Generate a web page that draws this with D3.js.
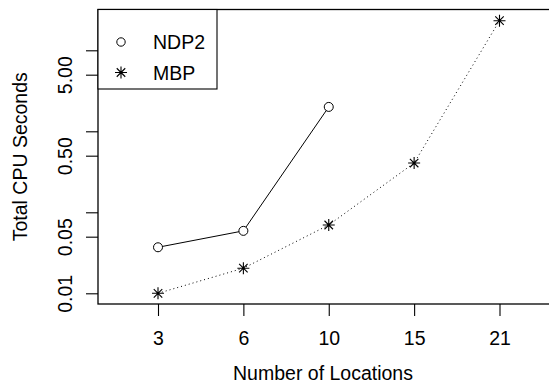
<!DOCTYPE html>
<html>
<head>
<meta charset="utf-8">
<script src="https://cdn.jsdelivr.net/npm/d3@7"></script>
<style>
  html, body { margin: 0; padding: 0; background: #fff; }
  svg text { font-family: "Liberation Sans", Arial, sans-serif; fill: #000; }
</style>
</head>
<body>
<svg id="chart" width="549" height="384"></svg>
<script>
// Number of locations (categorical, equally spaced on the x axis)
const locations = ["3", "6", "10", "15", "21"];
// Total CPU seconds for each method
const ndp2 = [0.037, 0.059, 2.0];
const mbp = [0.01, 0.0204, 0.0697, 0.406, 23.2];
// Log-axis tick positions and their labels
const yTicks = [0.01, 0.05, 0.1, 0.5, 1, 5, 10];
const yLabels = ["0.01", "0.05", "", "0.50", "", "5.00", ""];
const seriesNames = ["NDP2", "MBP"];

const svg = d3.select("#chart");
const font = 19.5;

const x = d3.scaleLinear().domain([1, 5]).range([158, 499.5]);
const y = d3.scaleLog().domain([0.01, 10]).range([293.3, 50.3]);

const box = { left: 98, right: 560, top: 9.5, bottom: 304 };

// Plot frame
svg.append("rect")
  .attr("x", box.left).attr("y", box.top)
  .attr("width", box.right - box.left).attr("height", box.bottom - box.top)
  .attr("fill", "none").attr("stroke", "#000").attr("stroke-width", 1.3);

// X axis ticks and labels
const xg = svg.append("g").attr("transform", `translate(0,${box.bottom})`);
xg.call(d3.axisBottom(x).tickValues([1, 2, 3, 4, 5])
  .tickFormat(i => locations[i - 1]).tickSize(12).tickPadding(0));
xg.select(".domain").remove();
xg.selectAll(".tick line").attr("stroke", "#000").attr("stroke-width", 1.1);
xg.selectAll(".tick text")
  .attr("y", 41).attr("dy", null)
  .style("font-size", font + "px")
  .style("font-family", "'Liberation Sans', Arial, sans-serif");

// Y axis ticks and rotated labels
const yg = svg.append("g").attr("transform", `translate(${box.left},0)`);
yg.call(d3.axisLeft(y).tickValues(yTicks)
  .tickFormat((d, i) => yLabels[i]).tickSize(12));
yg.select(".domain").remove();
yg.selectAll(".tick line").attr("stroke", "#000").attr("stroke-width", 1.1);
yg.selectAll(".tick text")
  .attr("x", null).attr("dy", null)
  .attr("transform", "translate(-26,0) rotate(-90)")
  .attr("text-anchor", "middle")
  .style("font-size", font + "px")
  .style("font-family", "'Liberation Sans', Arial, sans-serif");

// Axis titles
svg.append("text")
  .attr("x", 323).attr("y", 380)
  .attr("text-anchor", "middle")
  .style("font-size", font + "px")
  .text("Number of Locations");
svg.append("text")
  .attr("transform", `translate(27,${(box.top + box.bottom) / 2}) rotate(-90)`)
  .attr("text-anchor", "middle")
  .style("font-size", font + "px")
  .text("Total CPU Seconds");

const line = d3.line().x((d, i) => x(i + 1)).y(d => y(d));

// NDP2: solid line, open circles
svg.append("path").datum(ndp2)
  .attr("d", line).attr("fill", "none")
  .attr("stroke", "#000").attr("stroke-width", 1);
svg.selectAll(".ndp2").data(ndp2).enter().append("circle")
  .attr("class", "ndp2")
  .attr("cx", (d, i) => x(i + 1)).attr("cy", d => y(d))
  .attr("r", 4.5).attr("fill", "#fff")
  .attr("stroke", "#000").attr("stroke-width", 1);

// MBP: dotted line, asterisks
svg.append("path").datum(mbp)
  .attr("d", line).attr("fill", "none")
  .attr("stroke", "#000").attr("stroke-width", 1)
  .attr("stroke-dasharray", "1,3");

function asterisk(g, cx, cy, r) {
  const d = r * Math.SQRT1_2;
  const p = `M${cx - r},${cy}L${cx + r},${cy}M${cx},${cy - r}L${cx},${cy + r}` +
    `M${cx - d},${cy - d}L${cx + d},${cy + d}M${cx - d},${cy + d}L${cx + d},${cy - d}`;
  g.append("path").attr("d", p).attr("stroke", "#000").attr("stroke-width", 1.1).attr("fill", "none");
}
const mg = svg.append("g");
mbp.forEach((v, i) => asterisk(mg, x(i + 1), y(v), 6));

// Legend
svg.append("rect")
  .attr("x", box.left).attr("y", box.top)
  .attr("width", 119).attr("height", 79.5)
  .attr("fill", "#fff").attr("stroke", "#000").attr("stroke-width", 1.1);
const legY = [42, 72.5];
svg.append("circle").attr("cx", 121).attr("cy", legY[0]).attr("r", 4.2)
  .attr("fill", "none").attr("stroke", "#000").attr("stroke-width", 1);
asterisk(svg, 121, legY[1], 6);
seriesNames.forEach((n, i) => {
  svg.append("text")
    .attr("x", 153).attr("y", legY[i]).attr("dy", "0.36em")
    .style("font-size", font + "px")
    .text(n);
});
</script>
</body>
</html>
